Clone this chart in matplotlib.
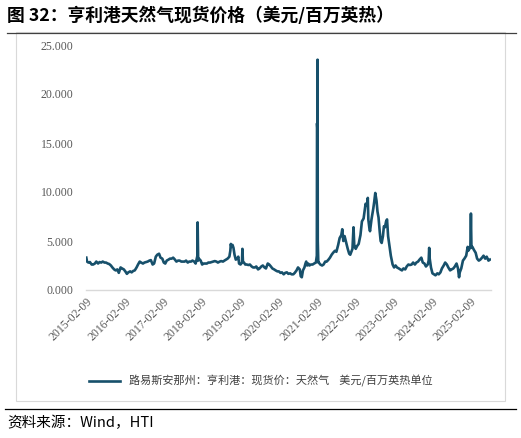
import matplotlib
matplotlib.use('Agg')
import matplotlib.pyplot as plt
import matplotlib.dates as mdates
from matplotlib.patches import Rectangle
from matplotlib.lines import Line2D
import pandas as pd

plt.rcParams['font.family'] = ['Noto Sans CJK SC', 'DejaVu Sans']

# Henry Hub spot price, USD/MMBtu
dates = [
    '2015-02-09', '2015-02-16', '2015-03-01', '2015-03-15', '2015-04-01', '2015-04-15', '2015-05-01', '2015-05-15',
    '2015-06-01', '2015-06-15', '2015-07-01', '2015-07-15', '2015-08-01', '2015-08-15', '2015-09-01', '2015-09-15',
    '2015-10-01', '2015-10-15', '2015-11-01', '2015-11-15', '2015-12-01', '2015-12-15',
    '2016-01-01', '2016-01-15', '2016-02-01', '2016-02-15', '2016-03-01', '2016-03-15', '2016-04-01', '2016-04-15',
    '2016-05-01', '2016-05-15', '2016-06-01', '2016-06-15', '2016-07-01', '2016-07-15', '2016-08-01', '2016-08-15',
    '2016-09-01', '2016-09-15', '2016-10-01', '2016-10-15', '2016-11-01', '2016-11-15', '2016-12-01', '2016-12-15',
    '2017-01-01', '2017-01-15', '2017-02-01', '2017-02-15', '2017-03-01', '2017-03-15', '2017-04-01', '2017-04-15',
    '2017-05-01', '2017-05-15', '2017-06-01', '2017-06-15', '2017-07-01', '2017-07-15', '2017-08-01', '2017-08-15',
    '2017-09-01', '2017-09-15', '2017-10-01', '2017-10-15', '2017-11-01', '2017-11-15', '2017-12-01', '2017-12-15',
    '2018-01-01', '2018-01-03', '2018-01-08', '2018-01-15', '2018-02-01', '2018-02-15', '2018-03-01', '2018-03-15',
    '2018-04-01', '2018-04-15', '2018-05-01', '2018-05-15', '2018-06-01', '2018-06-15', '2018-07-01', '2018-07-15',
    '2018-08-01', '2018-08-15', '2018-09-01', '2018-09-15', '2018-10-01', '2018-10-15', '2018-11-01', '2018-11-10',
    '2018-11-15', '2018-11-20', '2018-12-01', '2018-12-10', '2018-12-20',
    '2019-01-01', '2019-01-15', '2019-01-25', '2019-02-01', '2019-02-15', '2019-03-01', '2019-03-05', '2019-03-10',
    '2019-03-20', '2019-04-01', '2019-04-15', '2019-05-01', '2019-05-15', '2019-06-01', '2019-06-15', '2019-07-01',
    '2019-07-15', '2019-08-01', '2019-08-15', '2019-09-01', '2019-09-15', '2019-10-01', '2019-10-15', '2019-11-01',
    '2019-11-15', '2019-12-01', '2019-12-15',
    '2020-01-01', '2020-01-15', '2020-02-01', '2020-02-15', '2020-03-01', '2020-03-15', '2020-04-01', '2020-04-15',
    '2020-05-01', '2020-05-15', '2020-06-01', '2020-06-15', '2020-07-01', '2020-07-15', '2020-08-01', '2020-08-15',
    '2020-09-01', '2020-09-10', '2020-09-20', '2020-10-01', '2020-10-15', '2020-10-25', '2020-11-01', '2020-11-10',
    '2020-11-20', '2020-12-01', '2020-12-15',
    '2021-01-01', '2021-01-15', '2021-02-01', '2021-02-10', '2021-02-12', '2021-02-15', '2021-02-17', '2021-02-19',
    '2021-02-24', '2021-03-01', '2021-03-15', '2021-04-01', '2021-04-15', '2021-05-01', '2021-05-15', '2021-06-01',
    '2021-06-15', '2021-07-01', '2021-07-15', '2021-08-01', '2021-08-15', '2021-09-01', '2021-09-15', '2021-10-01',
    '2021-10-10', '2021-10-20', '2021-11-01', '2021-11-15', '2021-12-01', '2021-12-15', '2021-12-25',
    '2022-01-01', '2022-01-15', '2022-01-25', '2022-02-01', '2022-02-15', '2022-03-01', '2022-03-15', '2022-04-01',
    '2022-04-15', '2022-05-01', '2022-05-10', '2022-05-20', '2022-06-01', '2022-06-10', '2022-06-15', '2022-06-25',
    '2022-07-01', '2022-07-15', '2022-08-01', '2022-08-10', '2022-08-20', '2022-09-01', '2022-09-10', '2022-09-20',
    '2022-10-01', '2022-10-10', '2022-10-20', '2022-11-01', '2022-11-10', '2022-11-20', '2022-12-01', '2022-12-10',
    '2022-12-20',
    '2023-01-01', '2023-01-15', '2023-02-01', '2023-02-15', '2023-03-01', '2023-03-15', '2023-04-01', '2023-04-15',
    '2023-05-01', '2023-05-15', '2023-06-01', '2023-06-15', '2023-07-01', '2023-07-15', '2023-08-01', '2023-08-15',
    '2023-09-01', '2023-09-15', '2023-10-01', '2023-10-15', '2023-11-01', '2023-11-15', '2023-12-01', '2023-12-15',
    '2024-01-01', '2024-01-10', '2024-01-15', '2024-01-20', '2024-02-01', '2024-02-15', '2024-03-01', '2024-03-15',
    '2024-04-01', '2024-04-15', '2024-05-01', '2024-05-15', '2024-06-01', '2024-06-15', '2024-07-01', '2024-07-15',
    '2024-08-01', '2024-08-15', '2024-09-01', '2024-09-15', '2024-10-01', '2024-10-15', '2024-10-25', '2024-11-01',
    '2024-11-15', '2024-12-01', '2024-12-15',
    '2025-01-01', '2025-01-10', '2025-01-15', '2025-01-20', '2025-02-01', '2025-02-10', '2025-02-15', '2025-02-20',
    '2025-03-01', '2025-03-15', '2025-04-01', '2025-04-15', '2025-05-01', '2025-05-15', '2025-06-01', '2025-06-15',
    '2025-07-01', '2025-07-15', '2025-08-01', '2025-08-15',
]
prices = [
    3.3, 2.9, 2.8, 2.85, 2.6, 2.6, 2.7, 2.9,
    2.7, 2.85, 2.8, 2.9, 2.8, 2.8, 2.7, 2.65,
    2.5, 2.3, 2.1, 2.0, 2.1, 1.75,
    2.3, 2.2, 2.1, 1.9, 1.65, 1.8, 1.9, 1.8,
    1.95, 2.0, 2.3, 2.6, 2.9, 2.8, 2.7, 2.8,
    2.85, 2.9, 3.0, 3.05, 2.6, 2.7, 3.4, 3.6,
    3.7, 3.3, 3.2, 2.8, 2.7, 3.0, 3.1, 3.2,
    3.2, 3.3, 3.1, 2.9, 3.0, 3.0, 2.9, 2.9,
    2.9, 3.0, 2.8, 2.9, 2.9, 3.0, 2.9, 2.7,
    3.5, 6.9, 3.0, 3.2, 3.0, 2.6, 2.7, 2.7,
    2.7, 2.8, 2.8, 2.85, 2.9, 2.95, 2.9, 2.8,
    2.9, 2.95, 2.9, 3.0, 3.1, 3.2, 3.4, 4.0,
    4.7, 4.4, 4.6, 4.3, 3.6,
    3.1, 3.2, 3.4, 2.7, 2.6, 2.8, 4.2, 2.9,
    2.8, 2.6, 2.6, 2.55, 2.6, 2.4, 2.3, 2.3,
    2.4, 2.1, 2.2, 2.4, 2.5, 2.3, 2.2, 2.7,
    2.6, 2.4, 2.2,
    2.1, 2.0, 1.9, 1.9, 1.75, 1.8, 1.6, 1.75,
    1.8, 1.65, 1.7, 1.6, 1.6, 1.75, 2.0, 2.3,
    2.1, 1.4, 1.3, 2.0, 2.3, 2.7, 2.9, 2.5,
    2.7, 2.5, 2.6,
    2.6, 2.7, 2.8, 3.5, 17.0, 16.5, 23.5, 5.0,
    2.8, 2.8, 2.6, 2.5, 2.6, 2.9, 2.9, 3.1,
    3.3, 3.6, 3.8, 4.0, 3.9, 4.6, 5.3, 5.6,
    6.2, 5.0, 5.5, 4.9, 4.2, 3.7, 3.6,
    3.8, 4.2, 6.4, 4.6, 4.2, 4.5, 4.7, 5.6,
    7.0, 7.3, 8.0, 8.8, 8.6, 9.4, 7.2, 6.3,
    6.0, 7.2, 8.3, 9.0, 9.9, 9.1, 8.0, 7.4,
    6.0, 5.0, 4.8, 5.5, 6.5, 6.4, 7.0, 7.2,
    5.5,
    4.6, 3.5, 2.6, 2.3, 2.5, 2.3, 2.2, 2.1,
    2.0, 2.2, 2.1, 2.4, 2.6, 2.55, 2.6, 2.8,
    2.6, 2.8, 2.9, 3.1, 3.3, 2.8, 2.7, 2.4,
    2.6, 3.0, 4.3, 3.2, 2.3, 1.7, 1.6, 1.5,
    1.7, 1.6, 1.8, 2.2, 2.5, 2.8, 2.6, 2.3,
    2.0, 2.1, 2.2, 2.4, 2.7, 2.2, 1.3, 1.8,
    2.2, 3.0, 3.2,
    3.5, 4.1, 4.4, 4.0, 4.2, 4.5, 7.8, 4.3,
    4.4, 4.1, 3.8, 3.2, 3.0, 3.1, 3.3, 3.5,
    3.2, 3.4, 3.0, 3.1,
]
tick_dates = ['2015-02-09', '2016-02-09', '2017-02-09', '2018-02-09', '2019-02-09', '2020-02-09',
              '2021-02-09', '2022-02-09', '2023-02-09', '2024-02-09', '2025-02-09']
y_ticks = [0, 5, 10, 15, 20, 25]

title = '图 32：亨利港天然气现货价格（美元/百万英热）'
legend_label = '路易斯安那州：亨利港：现货价：天然气    美元/百万英热单位'
source = '资料来源：Wind，HTI'

line_color = '#17506b'
tick_color = '#595959'

fig = plt.figure(figsize=(5.21, 4.38), dpi=100)

# outer chart frame, title underline and bottom rule
fig.add_artist(Rectangle((16 / 521, 1 - 401 / 438), 489 / 521, 369 / 438,
                         transform=fig.transFigure, fill=False, edgecolor='#d9d9d9', linewidth=0.8))
fig.add_artist(Line2D([7 / 521, 516 / 521], [1 - 33 / 438] * 2, color='#404040', linewidth=0.9))
fig.add_artist(Line2D([5 / 521, 516 / 521], [1 - 409 / 438] * 2, color='black', linewidth=0.9))

fig.text(7 / 521, 1 - 16 / 438, title, fontsize=12.8, fontweight='bold', va='center', ha='left')
fig.text(7 / 521, 1 - 423 / 438, source, fontsize=10.5, style='italic', va='center', ha='left')

ax = fig.add_axes([86 / 521, 1 - 290 / 438, 405 / 521, 245 / 438])
x = pd.to_datetime(dates)
ax.plot(x, prices, color=line_color, linewidth=1.9, label=legend_label)

ax.set_ylim(0, 25)
ax.set_yticks(y_ticks)
ax.set_yticklabels([f'{v:.3f}' for v in y_ticks])
ax.set_xlim(pd.Timestamp('2015-02-06'), pd.Timestamp('2025-08-25'))
ax.set_xticks(pd.to_datetime(tick_dates))
ax.xaxis.set_major_formatter(mdates.DateFormatter('%Y-%m-%d'))

for s in ['top', 'right', 'left']:
    ax.spines[s].set_visible(False)
ax.spines['bottom'].set_color('#d9d9d9')
ax.spines['bottom'].set_linewidth(1.0)
ax.tick_params(axis='both', length=0, colors=tick_color, labelsize=8.5)
ax.tick_params(axis='y', pad=9)
ax.tick_params(axis='x', pad=4)
for lab in ax.get_xticklabels():
    lab.set_rotation(45)
    lab.set_ha('right')
    lab.set_va('top')
    lab.set_rotation_mode('anchor')
    lab.set_family(['Liberation Serif', 'DejaVu Serif'])
for lab in ax.get_yticklabels():
    lab.set_family(['Liberation Serif', 'DejaVu Serif'])

fig.legend(loc='center', bbox_to_anchor=(0.5, 1 - 381 / 438), frameon=False,
           fontsize=8, handlelength=2.8, labelcolor='#404040')

fig.savefig('out.png', dpi=100)
